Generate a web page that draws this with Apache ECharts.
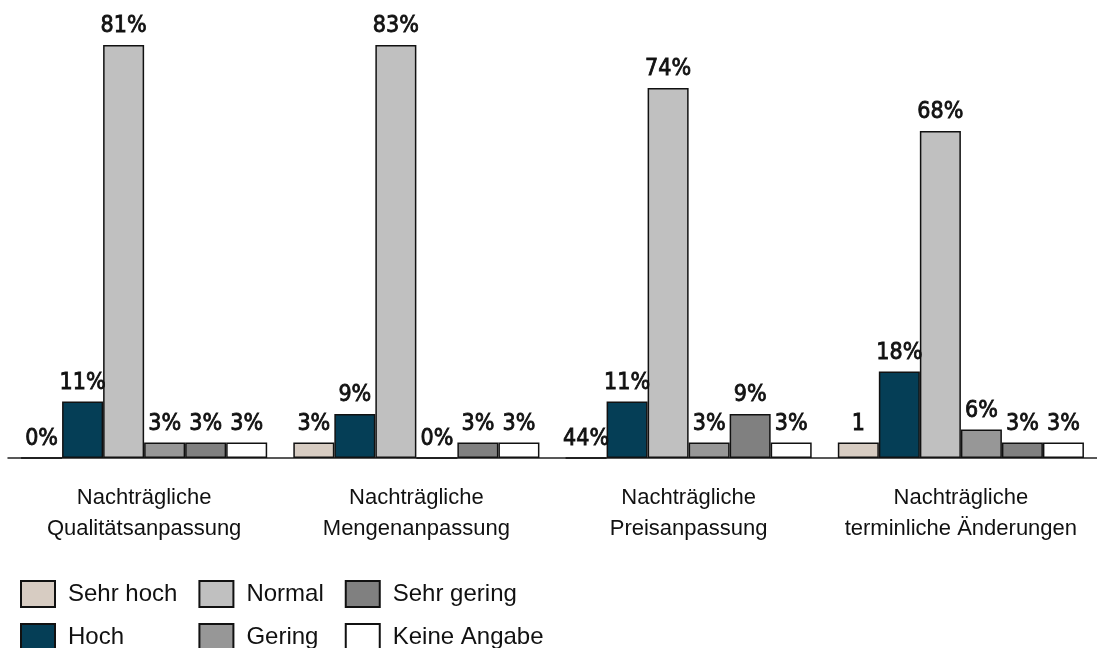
<!DOCTYPE html>
<html>
<head>
<meta charset="utf-8">
<script src="https://cdn.jsdelivr.net/npm/echarts@6/dist/echarts.min.js"></script>
<style>
html, body { margin: 0; padding: 0; background: #fff; }
#chart { width: 1097px; height: 648px; }
</style>
</head>
<body>
<div id="chart"></div>
<script>
// Kategorien
var categories = [
    'Nachträgliche\nQualitätsanpassung',
    'Nachträgliche\nMengenanpassung',
    'Nachträgliche\nPreisanpassung',
    'Nachträgliche\nterminliche Änderungen'
];
var seriesNames = ['Sehr hoch', 'Hoch', 'Normal', 'Gering', 'Sehr gering', 'Keine Angabe'];

// Balkenhöhen (in %)
var sehrHoch = [0, 3.1, 0, 3.1];
var hoch = [11.3, 8.8, 11.3, 17.3];
var normal = [82.6, 82.6, 74, 65.4];
var gering = [3.1, 0, 3.1, 5.7];
var sehrGering = [3.1, 3.1, 8.8, 3.1];
var keineAngabe = [3.1, 3.1, 3.1, 3.1];

// Beschriftungen wie im Original
var sehrHochLabels = ['0%', '3%', '44%', '1'];
var hochLabels = ['11%', '9%', '11%', '18%'];
var normalLabels = ['81%', '83%', '74%', '68%'];
var geringLabels = ['3%', '0%', '3%', '6%'];
var sehrGeringLabels = ['3%', '3%', '9%', '3%'];
var keineAngabeLabels = ['3%', '3%', '3%', '3%'];

var values = [sehrHoch, hoch, normal, gering, sehrGering, keineAngabe];
var labels = [sehrHochLabels, hochLabels, normalLabels, geringLabels, sehrGeringLabels, keineAngabeLabels];
var colors = ['#d7ccc2', '#053e56', '#c0c0c0', '#979797', '#808080', '#ffffff'];

var chart = echarts.init(document.getElementById('chart'));

var series = seriesNames.map(function (name, i) {
    return {
        name: name,
        type: 'bar',
        data: values[i],
        barGap: 0,
        barCategoryGap: '9.6%',
        itemStyle: {
            color: colors[i],
            borderColor: '#111',
            borderWidth: 1.5
        },
        label: {
            show: true,
            position: 'top',
            distance: 7,
            color: '#111',
            fontFamily: 'DejaVu Sans Condensed, sans-serif',
            fontSize: 23,
            textBorderColor: '#111',
            textBorderWidth: 0.8,
            formatter: function (p) {
                return labels[i][p.dataIndex];
            }
        }
    };
});

var option = {
    animation: false,
    grid: {
        left: 8,
        right: 0,
        top: 38,
        bottom: 190
    },
    xAxis: {
        type: 'category',
        data: categories,
        axisLine: { lineStyle: { color: '#222', width: 1.5 } },
        axisTick: { show: false },
        axisLabel: {
            interval: 0,
            margin: 24,
            color: '#111',
            fontFamily: 'Liberation Sans, Arial, sans-serif',
            fontSize: 22,
            lineHeight: 31
        }
    },
    yAxis: {
        type: 'value',
        min: 0,
        max: 84,
        show: false
    },
    legend: {
        orient: 'vertical',
        left: 20,
        top: 580,
        height: 78,
        padding: 0,
        itemGap: 15,
        itemWidth: 34,
        itemHeight: 26,
        icon: 'rect',
        data: seriesNames,
        textStyle: {
            color: '#111',
            fontFamily: 'Liberation Sans, Arial, sans-serif',
            fontSize: 24,
            lineHeight: 26,
            padding: [0, 6, 0, 8]
        }
    },
    series: series
};

chart.setOption(option);
</script>
</body>
</html>
